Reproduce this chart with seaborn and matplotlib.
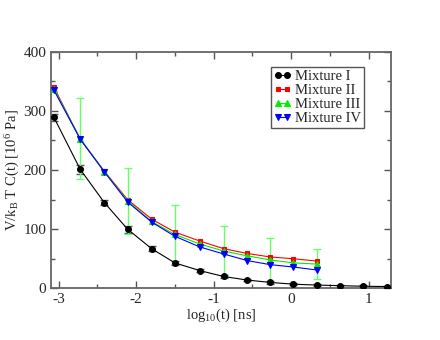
import numpy as np
import seaborn as sns
import matplotlib.pyplot as plt
from matplotlib.ticker import MultipleLocator

# log10(t) positions
x_all = [-3.06, -2.72, -2.41, -2.11, -1.80, -1.50, -1.18, -0.87, -0.57, -0.27, 0.03, 0.33, 0.63, 0.93, 1.23]

mix1 = [289, 201, 145, 100, 67, 43, 30, 20, 14, 10, 7, 5.5, 4.5, 3.5, 3]
mix1_err = [6, 8, 5, 6, 4, 4, 3, 2, 2, 2, 2, 2, 1.5, 1.5, 1.5]
mix2 = [340, 252, 198, 150, 117, 95, 80, 67, 59, 53, 50, 46]
mix3 = [337, 253, 197, 148, 113, 91, 75, 63, 55, 48, 43, 41]
mix3_err = [0, 68, 0, 56, 0, 50, 0, 43, 0, 37, 0, 26]
mix4 = [335, 252, 197, 146, 112, 88, 70, 58, 47, 40, 36, 31]

sns.set_style('ticks')
plt.rcParams['font.family'] = ['Liberation Serif', 'DejaVu Serif']
plt.rcParams['mathtext.fontset'] = 'custom'
plt.rcParams['mathtext.rm'] = 'Liberation Serif'
plt.rcParams['mathtext.it'] = 'Liberation Serif:italic'
plt.rcParams['axes.unicode_minus'] = False

fig = plt.figure(figsize=(4.4, 3.4), dpi=100)
ax = fig.add_axes([0.116, 0.152, 0.773, 0.696])

# error bars first
ax.errorbar(x_all, mix1, yerr=mix1_err, fmt='none', ecolor='#555555',
            elinewidth=1.0, capsize=3, capthick=1.0, zorder=2)
n = len(mix3)
idx = [i for i in range(n) if mix3_err[i] > 0]
ax.errorbar([x_all[i] for i in idx], [mix3[i] for i in idx],
            yerr=[mix3_err[i] for i in idx], fmt='none', ecolor='#66ff66',
            elinewidth=1.0, capsize=3, capthick=1.0, zorder=2)

series = [
    ('Mixture I', x_all, mix1, 'black', 'o', 4.2),
    ('Mixture II', x_all[:len(mix2)], mix2, '#ff0000', 's', 3.5),
    ('Mixture III', x_all[:len(mix3)], mix3, '#00ee00', '^', 4.2),
    ('Mixture IV', x_all[:len(mix4)], mix4, '#0000ff', 'v', 4.2),
]
for name, xs, ys, col, mk, ms in series:
    sns.lineplot(x=xs, y=ys, ax=ax, color=col, marker=mk, markersize=ms,
                 markeredgecolor=col, markeredgewidth=0.8, linewidth=0.8,
                 label=name, zorder=3)

ax.set_xlim(-3.097, 1.29)
ax.set_ylim(0, 400)
ax.xaxis.set_major_locator(MultipleLocator(1))
ax.xaxis.set_minor_locator(MultipleLocator(0.5))
ax.yaxis.set_major_locator(MultipleLocator(100))
ax.yaxis.set_minor_locator(MultipleLocator(50))
ax.tick_params(which='both', direction='in', top=True, right=True,
               color='#555555', labelsize=11)
ax.tick_params(which='major', length=5, width=1)
ax.tick_params(which='minor', length=3, width=1)
for s in ax.spines.values():
    s.set_color('#666666')
    s.set_linewidth(1.3)

ax.set_xlabel(r'log$_{10}$(t) [ns]', fontsize=10.5, labelpad=0)
ax.set_ylabel(r'V/k$_{\rm B}$ T C(t) [10$^6$ Pa]', fontsize=10.5, labelpad=1)

leg = ax.legend(loc='upper right', bbox_to_anchor=(0.92, 0.935), fontsize=10.5,
                numpoints=2, handlelength=1.2, handletextpad=0.25,
                labelspacing=0.05, borderpad=0.2, borderaxespad=0,
                fancybox=False, framealpha=1, edgecolor='#555555')
leg.get_frame().set_linewidth(1.0)

fig.savefig('out.png', dpi=100)
